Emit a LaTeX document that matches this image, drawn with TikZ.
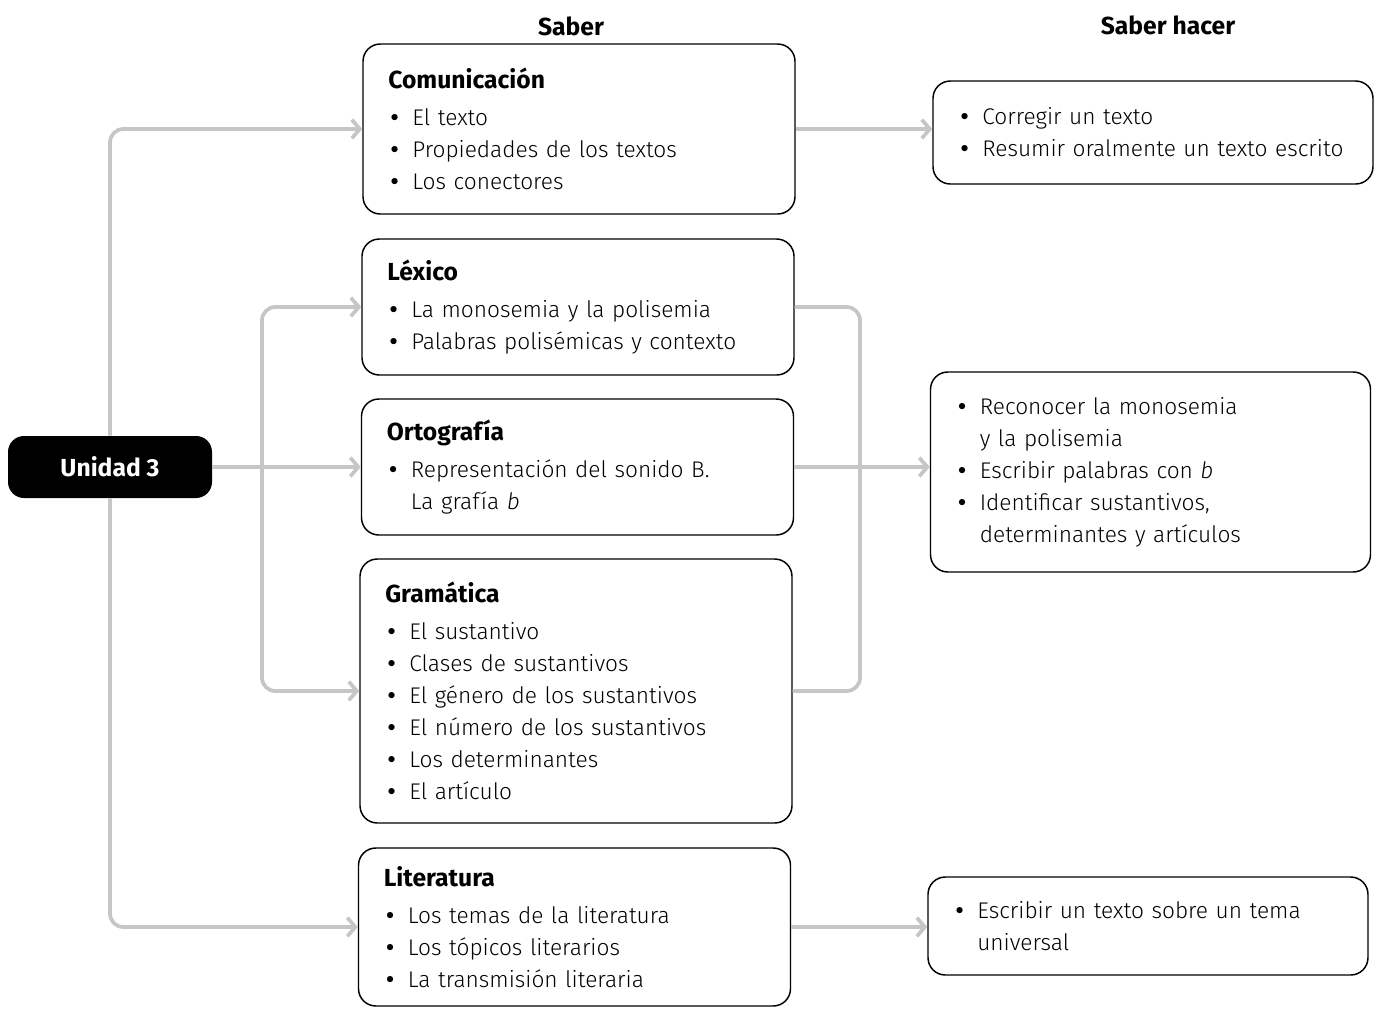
\documentclass[tikz,border=0pt]{standalone}
\usepackage{fontspec}
\setmainfont{Fira Sans}[UprightFont={* Light},BoldFont={* Bold},ItalicFont={* Light Italic}]
\newfontfamily\symfont{DejaVu Sans}
\usetikzlibrary{arrows.meta}

\tikzset{
  box/.style={draw, line width=1.1pt, rounded corners=13pt, align=left, inner xsep=19pt, inner ysep=0pt,
    font=\fontsize{17pt}{24pt}\selectfont},
  leftbox/.style={box, text width=286pt, minimum width=324pt},
  rightbox/.style={box, text width=292pt, minimum width=330pt},
  head/.style={font=\fontsize{18.5pt}{24pt}\selectfont\bfseries, inner sep=0pt},
  conn/.style={draw=gray!45, line width=2.8pt, rounded corners=10pt},
  tip/.style={-{Straight Barb[length=6pt,width=14pt]}},
}
\newcommand{\bul}{\makebox[18pt][l]{\symfont\fontsize{16pt}{24pt}\selectfont •}}
\newcommand{\ind}{\hspace*{18pt}}
\newcommand{\ttl}[1]{{\fontsize{18.5pt}{24pt}\selectfont\bfseries #1}}

\begin{document}
\begin{tikzpicture}[x=0.75pt,y=0.75pt,yscale=-1,xscale=1]
    \useasboundingbox (0,0) rectangle (1379,1008);

    % Headings
    \node[head] (saber) at (571,26) {Saber};
    \node[head] (hacer) at (1168,25) {Saber hacer};

    % Unit
    \node[fill=black, rounded corners=12pt, minimum width=153pt, minimum height=46.5pt, text=white,
      font=\fontsize{18.5pt}{24pt}\selectfont\bfseries] (unidad) at (110,467) {Unidad 3};

    % Saber boxes
    \node[leftbox, minimum height=127.5pt] (com) at (579,129)
      {\ttl{Comunicación}\\[4pt]\bul El texto\\\bul Propiedades de los textos\\\bul Los conectores};
    \node[leftbox, minimum height=102pt] (lex) at (578,307)
      {\ttl{Léxico}\\[4pt]\bul La monosemia y la polisemia\\\bul Palabras polisémicas y contexto};
    \node[leftbox, minimum height=102pt] (orto) at (577.5,467)
      {\ttl{Ortografía}\\[4pt]\bul Representación del sonido B.\\\ind La grafía \textit{b}};
    \node[leftbox, minimum height=198pt] (gram) at (576,691)
      {\ttl{Gramática}\\[4pt]\bul El sustantivo\\\bul Clases de sustantivos\\\bul El género de los sustantivos\\
       \bul El número de los sustantivos\\\bul Los determinantes\\\bul El artículo};
    \node[leftbox, minimum height=118.5pt] (lit) at (574.5,927)
      {\ttl{Literatura}\\[4pt]\bul Los temas de la literatura\\\bul Los tópicos literarios\\\bul La transmisión literaria};

    % Saber hacer boxes
    \node[rightbox, minimum height=77.25pt] (r1) at (1153,132.5)
      {\bul Corregir un texto\\\bul Resumir oralmente un texto escrito};
    \node[rightbox, minimum height=150pt] (r2) at (1150.5,472)
      {\bul Reconocer la monosemia\\\ind y la polisemia\\\bul Escribir palabras con \textit{b}\\
       \bul Identificar sustantivos,\\\ind determinantes y artículos};
    \node[rightbox, minimum height=73.5pt] (r3) at (1148,926)
      {\bul Escribir un texto sobre un tema\\\ind universal};

    % Connectors
    \draw[conn,tip] (unidad.north) |- (com.west);
    \draw[conn,tip] (unidad.south) |- (lit.west);
    \draw[conn,tip] (unidad.east) -- (orto.west);
    \coordinate (split) at (262,467);
    \draw[conn,tip] (split) |- (lex.west);
    \draw[conn,tip] (split) |- (gram.west);
    \coordinate (join) at (860,467);
    \draw[conn] (lex.east) -| (join) |- (gram.east);
    \draw[conn,tip] (orto.east) -- (orto.east -| r2.west);
    \draw[conn,tip] (com.east) -- (com.east -| r1.west);
    \draw[conn,tip] (lit.east) -- (lit.east -| r3.west);
\end{tikzpicture}
\end{document}
